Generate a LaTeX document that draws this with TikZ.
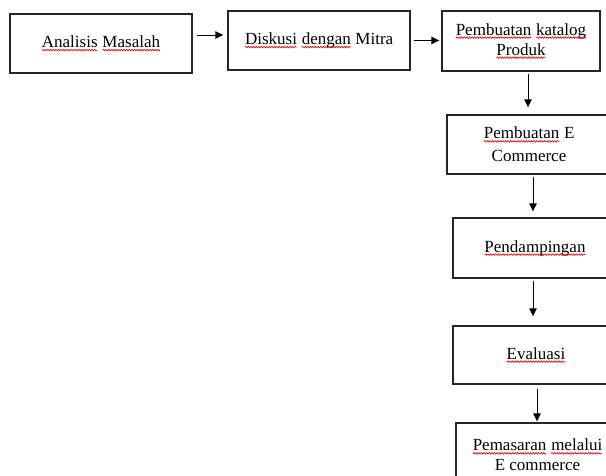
\documentclass[tikz,border=0pt]{standalone}
\usepackage{fontspec}
\setmainfont{Liberation Serif}
\usetikzlibrary{arrows.meta,decorations.pathmorphing}
% red wavy underline, as the spell checker draws it
\newcommand\salah[1]{\tikz[baseline=(w.base)]{%
    \node[draw=none,fill=none,inner sep=0pt,outer sep=0pt,minimum width=0pt,
        minimum height=0pt,anchor=base,align=left,shape=rectangle] (w) at (0,0) {#1};
    \draw[red!85!black,line width=0.6pt,decorate,
        decoration={snake,amplitude=0.8pt,segment length=2.6pt}]
        ([yshift=-2.5pt]w.base west) -- ([yshift=-2.5pt]w.base east);}}

\begin{document}
\begin{tikzpicture}[x=1pt,y=-1pt,
    box/.style={draw=black!85,line width=1.4pt,align=center,inner sep=0pt,
        font={\fontsize{17}{20}\selectfont}},
    arr/.style={-{Triangle[length=8pt,width=7.5pt]},line width=0.9pt},
    ]
    \useasboundingbox (0,0) rectangle (606,475);
    \clip (0,0) rectangle (606,475);

    % Top row
    \node[box,minimum width=182pt,minimum height=59pt] (masalah) at (101,43.5)
        {\salah{Analisis} \salah{Masalah}};
    \node[box,minimum width=182pt,minimum height=59pt] (diskusi) at (319,40.5)
        {\salah{Diskusi} \salah{dengan} Mitra};
    \node[box,minimum width=158pt,minimum height=60pt] (katalog) at (521,41)
        {\salah{Pembuatan} \salah{katalog}\\ \salah{Produk}};

    % Right column
    \node[box,minimum width=164pt,minimum height=59pt] (ecommerce) at (529,144.5)
        {\salah{Pembuatan} E\\[3pt] Commerce};
    \node[box,minimum width=164pt,minimum height=60pt] (pendamping) at (535,248)
        {\salah{Pendampingan}};
    \node[box,minimum width=166pt,minimum height=58pt] (evaluasi) at (536,355)
        {\salah{Evaluasi}};
    \node[box,minimum width=163pt,minimum height=64pt] (pemasaran) at (537.5,455)
        {\salah{Pemasaran} \salah{melalui}\\ E commerce};

    % Arrows
    \coordinate (p1) at ([yshift=8.5pt]masalah.east);
    \draw[arr,shorten <=4pt,shorten >=4pt] (p1) -- (p1 -| diskusi.west);
    \draw[arr,shorten <=3pt,shorten >=2pt] (diskusi.east) -- (diskusi.east -| katalog.west);

    \coordinate (p3) at ([xshift=7pt]katalog.south);
    \draw[arr,shorten <=2pt,shorten >=7pt] (p3) -- (p3 |- ecommerce.north);
    \coordinate (p4) at ([xshift=4pt]ecommerce.south);
    \draw[arr,shorten <=2pt,shorten >=6pt] (p4) -- (p4 |- pendamping.north);
    \coordinate (p5) at ([xshift=-2pt]pendamping.south);
    \draw[arr,shorten <=2pt,shorten >=9pt] (p5) -- (p5 |- evaluasi.north);
    \coordinate (p6) at ([xshift=1pt]evaluasi.south);
    \draw[arr,shorten <=4pt,shorten >=1pt] (p6) -- (p6 |- pemasaran.north);

\end{tikzpicture}
\end{document}
